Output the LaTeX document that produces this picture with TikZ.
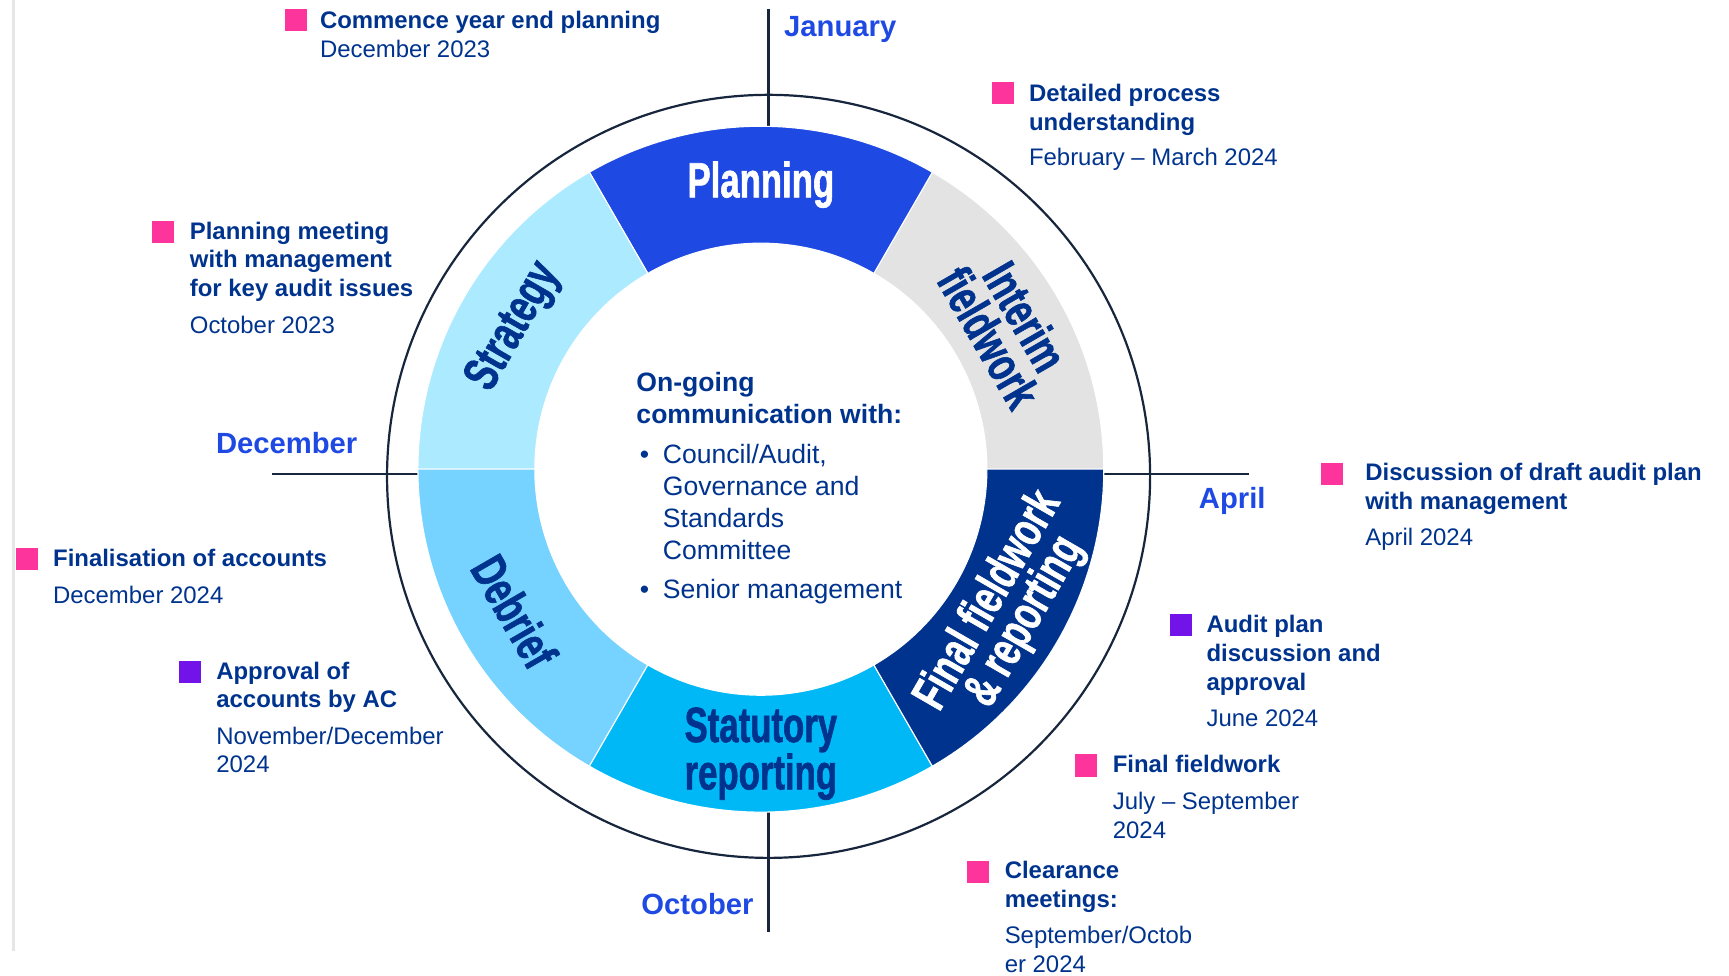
\documentclass[tikz,border=0pt]{standalone}
\usepackage{fontspec}
\setmainfont{Liberation Sans}
\newfontfamily\condfont[FakeStretch=0.7, FakeBold=1.2]{Liberation Sans}
\usetikzlibrary{calc}

\definecolor{navy}{HTML}{00338D}
\definecolor{monthblue}{HTML}{1E49E2}
\definecolor{planc}{HTML}{1E49E2}
\definecolor{interimc}{HTML}{E3E3E3}
\definecolor{finalc}{HTML}{00338D}
\definecolor{statc}{HTML}{00B8F5}
\definecolor{debriefc}{HTML}{76D2FF}
\definecolor{stratc}{HTML}{ACEAFF}
\definecolor{pinkc}{HTML}{FD349C}
\definecolor{purplec}{HTML}{7213EA}
\definecolor{axisc}{HTML}{17263D}
\definecolor{edgec}{HTML}{E6E6E6}

% one coloured sector of the ring: start angle, end angle, colour
\newcommand\ringsector[3]{%
  \filldraw[fill=#3, draw=white, line width=1pt]
    (#1:311) arc[start angle=#1, end angle=#2, radius=311]
    -- (#2:205) arc[start angle=#2, end angle=#1, radius=205] -- cycle;}

\tikzset{
  sq/.style={fill=#1, minimum width=20pt, minimum height=20pt, inner sep=0pt, anchor=north west},
  note/.style={anchor=base west, inner sep=0pt, text=navy, font=\fontsize{21.7}{26}\selectfont},
  month/.style={anchor=base, inner sep=0pt, text=monthblue, font=\fontsize{26.5}{30}\selectfont\bfseries},
  seglabel/.style={inner sep=0pt, align=center, font=\condfont\bfseries\fontsize{45}{38}\selectfont},
  axisline/.style={draw=axisc, line width=2pt},
}

\begin{document}
\begin{tikzpicture}[x=1pt, y=1pt]
\useasboundingbox (0,0) rectangle (1568,-885);

% thin rule along the left edge
\draw[edgec, line width=2.5pt] (12,0) -- (12,-862);

% month axes
\coordinate (ctr) at (697,-430);
\coordinate (ntop) at (697,-8);
\coordinate (nbot) at (697,-120);
\coordinate (stop) at (697,-730);
\coordinate (sbot) at (697,-845);
\coordinate (wl) at (247,-430);
\coordinate (wr) at (386,-430);
\coordinate (el) at (995,-430);
\coordinate (er) at (1133,-430);
\draw[axisline] (ntop) -- (nbot);
\draw[axisline] (stop) -- (sbot);
\draw[axisline] (wl) -- (wr);
\draw[axisline] (el) -- (er);

% outer circle
\draw[axisc, line width=2pt] (697,-432) circle[radius=346];

% the ring of audit phases
\begin{scope}[shift={(690,-425.5)}]
  \ringsector{0}{60}{interimc}
  \ringsector{60}{120}{planc}
  \ringsector{120}{180}{stratc}
  \ringsector{180}{240}{debriefc}
  \ringsector{240}{300}{statc}
  \ringsector{300}{360}{finalc}

  \node[seglabel, text=white] (planning) at (90:258) {Planning};
  \node[seglabel, text=navy, rotate=60] (strategy) at (150:258) {Strategy};
  \node[seglabel, text=navy, rotate=-60] (interim) at (30:258) {Interim\\fieldwork};
  \node[seglabel, text=white, rotate=60] (final) at (-30:258) {Final fieldwork\\\& reporting};
  \node[seglabel, text=navy] (statutory) at (-90:258) {Statutory\\reporting};
  \node[seglabel, text=navy, rotate=-60] (debrief) at (210:258) {Debrief};
\end{scope}

% centre text
\node[anchor=base west, inner sep=0pt, text=navy, font=\fontsize{24.1}{29}\selectfont] (comms) at (577,-355)
  {\begin{tabular}[t]{@{}l@{}}
   \bfseries On-going\\
   \bfseries communication with:\\[7pt]
   \makebox[24pt][l]{\hspace{3pt}•}Council/Audit,\\
   \hspace{24pt}Governance and\\
   \hspace{24pt}Standards\\
   \hspace{24pt}Committee\\[7pt]
   \makebox[24pt][l]{\hspace{3pt}•}Senior management
   \end{tabular}};

% months
\node[month] (jan) at (762,-33.5) {January};
\node[month] (dec) at (260,-411.5) {December};
\node[month] (apr) at (1117.5,-461.5) {April};
\node[month] (oct) at (632.5,-829.5) {October};

% milestones
\node[sq=pinkc] (s1) at (258,-8) {};
\node[note] (m1) at (290,-26) {\begin{tabular}[t]{@{}l@{}}\bfseries Commence year end planning\\December 2023\end{tabular}};

\node[sq=pinkc] (s2) at (899,-74) {};
\node[note] (m2) at (933,-92) {\begin{tabular}[t]{@{}l@{}}\bfseries Detailed process\\\bfseries understanding\\[6pt]February – March 2024\end{tabular}};

\node[sq=pinkc] (s3) at (138,-200) {};
\node[note] (m3) at (172,-217) {\begin{tabular}[t]{@{}l@{}}\bfseries Planning meeting\\\bfseries with management\\\bfseries for key audit issues\\[7pt]October 2023\end{tabular}};

\node[sq=pinkc] (s4) at (1198,-420) {};
\node[note] (m4) at (1238,-436) {\begin{tabular}[t]{@{}l@{}}\bfseries Discussion of draft audit plan\\\bfseries with management\\[7pt]April 2024\end{tabular}};

\node[sq=pinkc] (s5) at (14,-497) {};
\node[note] (m5) at (48,-514) {\begin{tabular}[t]{@{}l@{}}\bfseries Finalisation of accounts\\[7pt]December 2024\end{tabular}};

\node[sq=purplec] (s6) at (162,-599) {};
\node[note] (m6) at (196,-616) {\begin{tabular}[t]{@{}l@{}}\bfseries Approval of\\\bfseries accounts by AC\\[7pt]November/December\\2024\end{tabular}};

\node[sq=purplec] (s7) at (1061,-557) {};
\node[note] (m7) at (1094,-574) {\begin{tabular}[t]{@{}l@{}}\bfseries Audit plan\\\bfseries discussion and\\\bfseries approval\\[7pt]June 2024\end{tabular}};

\node[sq=pinkc] (s8) at (975,-684) {};
\node[note] (m8) at (1009,-701) {\begin{tabular}[t]{@{}l@{}}\bfseries Final fieldwork\\[7pt]July – September\\2024\end{tabular}};

\node[sq=pinkc] (s9) at (877,-781) {};
\node[note] (m9) at (911,-797) {\begin{tabular}[t]{@{}l@{}}\bfseries Clearance\\\bfseries meetings:\\[7pt]September/Octob\\er 2024\end{tabular}};
\end{tikzpicture}
\end{document}
